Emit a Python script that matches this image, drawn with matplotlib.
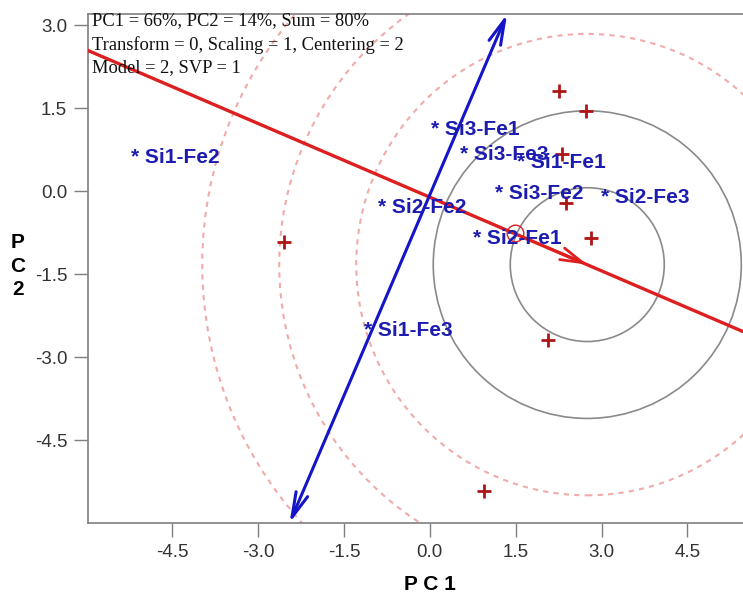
import numpy as np
import matplotlib
matplotlib.use('Agg')
import matplotlib.pyplot as plt
from matplotlib.patches import Ellipse


# score points (asterisks) and their names
sample_names = ['Si1-Fe2', 'Si3-Fe1', 'Si3-Fe3', 'Si1-Fe1', 'Si3-Fe2',
                'Si2-Fe3', 'Si2-Fe2', 'Si2-Fe1', 'Si1-Fe3']
sample_x = [-5.14, 0.11, 0.62, 1.61, 1.23, 3.07, -0.81, 0.85, -1.06]
sample_y = [0.67, 1.18, 0.74, 0.58, 0.02, -0.04, -0.23, -0.78, -2.44]

# loading points (+)
var_x = [2.26, 2.72, 2.30, 2.38, 2.82, 2.07, -2.54, 0.95]
var_y = [1.81, 1.45, 0.67, -0.22, -0.85, -2.69, -0.92, -5.42]

# concentric rings around the ideal point
ring_center = (2.75, -1.33)
ring_rx, ring_ry = 1.345, 1.39
solid_rings = [1, 2]
dashed_rings = [3, 4, 5]

# small circle marked on the red axis
mark_x, mark_y = 1.49, -0.76

# the two biplot axes
red_x = [-5.97, 5.47]
red_y = [2.54, -2.54]
red_tip = (2.75, -1.33)
blue_x = [-2.45, 1.35]
blue_y = [-6.0, 3.2]

info_lines = ['PC1 = 66%, PC2 = 14%, Sum = 80%',
              'Transform = 0, Scaling = 1, Centering = 2',
              'Model = 2, SVP = 1']

xticks = [-4.5, -3.0, -1.5, 0.0, 1.5, 3.0, 4.5]
yticks = [-4.5, -3.0, -1.5, 0.0, 1.5, 3.0]


def run():
    plt.rcParams['font.family'] = ['Liberation Sans', 'DejaVu Sans']
    fig = plt.figure(figsize=(7.43, 5.95), dpi=100)
    ax = fig.add_axes([88/743, 72/595, 1 - 88/743, (523 - 14)/595])
    ax.set_xlim(-5.97, 5.47)
    ax.set_ylim(-6.0, 3.2)

    for k in solid_rings:
        ax.add_patch(Ellipse(ring_center, 2*k*ring_rx, 2*k*ring_ry, fill=False,
                             ec='#8a8a8a', lw=1.2, zorder=1))
    for k in dashed_rings:
        ax.add_patch(Ellipse(ring_center, 2*k*ring_rx, 2*k*ring_ry, fill=False,
                             ec='#f2aaaa', lw=1.5, ls=(0, (2.5, 2.5)), zorder=1))

    # red axis with arrow head at the ring center
    ax.plot(red_x, red_y, color='#dd1f1f', lw=2.4, zorder=3)
    d = np.array(red_tip) - np.array([red_x[0], red_y[0]])
    start = np.array(red_tip) - 0.08 * d
    ax.annotate('', xy=red_tip, xytext=start,
                arrowprops=dict(arrowstyle='->, head_length=1.6, head_width=0.45',
                                color='#dd1f1f', lw=2.0, shrinkA=0, shrinkB=0),
                zorder=3)
    ax.plot(mark_x, mark_y, 'o', ms=12, mfc='none', mec='#dd1f1f', mew=1.0, zorder=3)

    # blue axis, arrows at both ends
    ax.annotate('', xy=(blue_x[1], blue_y[1]), xytext=(blue_x[0], blue_y[0]),
                arrowprops=dict(arrowstyle='<->, head_length=1.8, head_width=0.45',
                                color='#1515c8', lw=2.2, shrinkA=0, shrinkB=0),
                annotation_clip=False, zorder=3)

    ax.plot(var_x, var_y, '+', color='#b01515', ms=10, mew=2.0, zorder=4)

    for name, x, y in zip(sample_names, sample_x, sample_y):
        ax.annotate('* ' + name, xy=(x, y), xytext=(-5, -4), textcoords='offset pixels',
                    ha='left', va='center', color='#1c1cb0', fontsize=15,
                    fontweight='bold', zorder=5)

    ax.text(0.006, 1.003, '\n'.join(info_lines), transform=ax.transAxes,
            ha='left', va='top', fontsize=13.3, family='Liberation Serif',
            linespacing=1.45, color='#111111', zorder=6)

    ax.set_xticks(xticks)
    ax.set_yticks(yticks)
    ax.set_xticklabels(['%.1f' % v for v in xticks])
    ax.set_yticklabels(['%.1f' % v for v in yticks])
    ax.tick_params(direction='out', length=10, width=1, color='#7f7f7f',
                   labelcolor='#333333', labelsize=13.5, pad=5)
    for side in ['left', 'bottom', 'top']:
        ax.spines[side].set_color('#7f7f7f')
        ax.spines[side].set_linewidth(1.2)
    ax.spines['right'].set_visible(False)

    fig.text(430/743, 1 - 584/595, 'P C 1', ha='center', va='center',
             fontsize=15, fontweight='bold')
    fig.text(18/743, 1 - 266/595, 'P\nC\n2', ha='center', va='center',
             fontsize=15, fontweight='bold', linespacing=1.28)

    plt.savefig('out.png', dpi=100)


if __name__ == '__main__':
    run()
